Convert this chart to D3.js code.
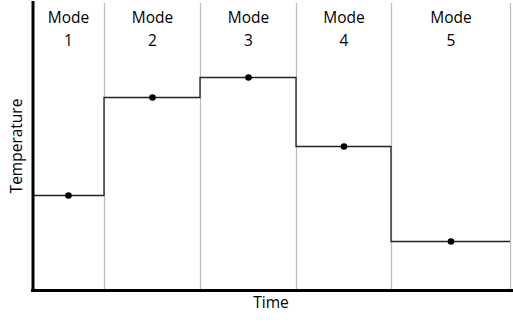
<!DOCTYPE html>
<html>
<head>
<meta charset="utf-8">
<script src="https://cdn.jsdelivr.net/npm/d3@7"></script>
<style>
  html, body { margin: 0; padding: 0; background: #fff; }
  svg { display: block; }
  text { font-family: "Open Sans", "DejaVu Sans", sans-serif; }
</style>
</head>
<body>
<svg id="chart" width="513" height="324"></svg>
<script>
// Data
const modes = ["1", "2", "3", "4", "5"];
const modeStart = [0, 72, 168, 264, 359];
const modeEnd = [72, 168, 264, 359, 478];
const temperature = [33, 67, 74, 50, 17];
const xLabel = "Time";
const yLabel = "Temperature";

(function () {
const svg = d3.select("#chart");
const mLeft = 32, mRight = 512, mTop = 2, mBottom = 290;

const x = d3.scaleLinear().domain([0, 480]).range([mLeft, mRight]);
const y = d3.scaleLinear().domain([0, 100]).range([mBottom, mTop]);

// Mode dividers
svg.append("g").selectAll("line")
  .data(modeEnd)
  .join("line")
  .attr("x1", d => Math.round(x(d)) + 0.5)
  .attr("x2", d => Math.round(x(d)) + 0.5)
  .attr("y1", 3)
  .attr("y2", mBottom)
  .attr("stroke", "#bdbdbd")
  .attr("stroke-width", 1.3);

// Mode labels
const lab = svg.append("g").selectAll("text")
  .data(modes)
  .join("text")
  .attr("text-anchor", "middle")
  .attr("font-size", 15.5)
  .attr("fill", "#000");
lab.append("tspan")
  .attr("x", (d, i) => x((modeStart[i] + modeEnd[i]) / 2) + 0.5)
  .attr("y", 23)
  .text("Mode");
lab.append("tspan")
  .attr("x", (d, i) => x((modeStart[i] + modeEnd[i]) / 2) + 0.5)
  .attr("y", 46)
  .text(d => d);

// Step line
const pts = [];
modes.forEach((m, i) => {
  pts.push([modeStart[i], temperature[i]]);
  pts.push([modeEnd[i], temperature[i]]);
});
const line = d3.line()
  .x(d => x(d[0]))
  .y(d => Math.round(y(d[1])) + 0.5);
svg.append("path")
  .datum(pts)
  .attr("d", line)
  .attr("fill", "none")
  .attr("stroke", "#222")
  .attr("stroke-width", 1.3);

// Dots
svg.append("g").selectAll("circle")
  .data(modes)
  .join("circle")
  .attr("cx", (d, i) => x((modeStart[i] + modeEnd[i]) / 2) + 0.5)
  .attr("cy", (d, i) => Math.round(y(temperature[i])) + 0.5)
  .attr("r", 3.3)
  .attr("fill", "#000");

// Axes (no ticks, thick domain lines)
svg.append("g")
  .attr("transform", `translate(0,${mBottom})`)
  .call(d3.axisBottom(x).tickValues([]).tickSizeOuter(0));
svg.append("g")
  .attr("transform", `translate(${mLeft + 0.5},0)`)
  .call(d3.axisLeft(y).tickValues([]).tickSizeOuter(0));
svg.selectAll(".domain")
  .attr("stroke", "#000")
  .attr("stroke-width", 3)
  .attr("stroke-linecap", "square");

// Axis titles
svg.append("text")
  .attr("x", 271)
  .attr("y", 308)
  .attr("text-anchor", "middle")
  .attr("font-size", 15.5)
  .attr("fill", "#000")
  .text(xLabel);
svg.append("text")
  .attr("transform", `translate(22,146) rotate(-90)`)
  .attr("text-anchor", "middle")
  .attr("font-size", 15.5)
  .attr("fill", "#000")
  .text(yLabel);
})();
</script>
</body>
</html>
